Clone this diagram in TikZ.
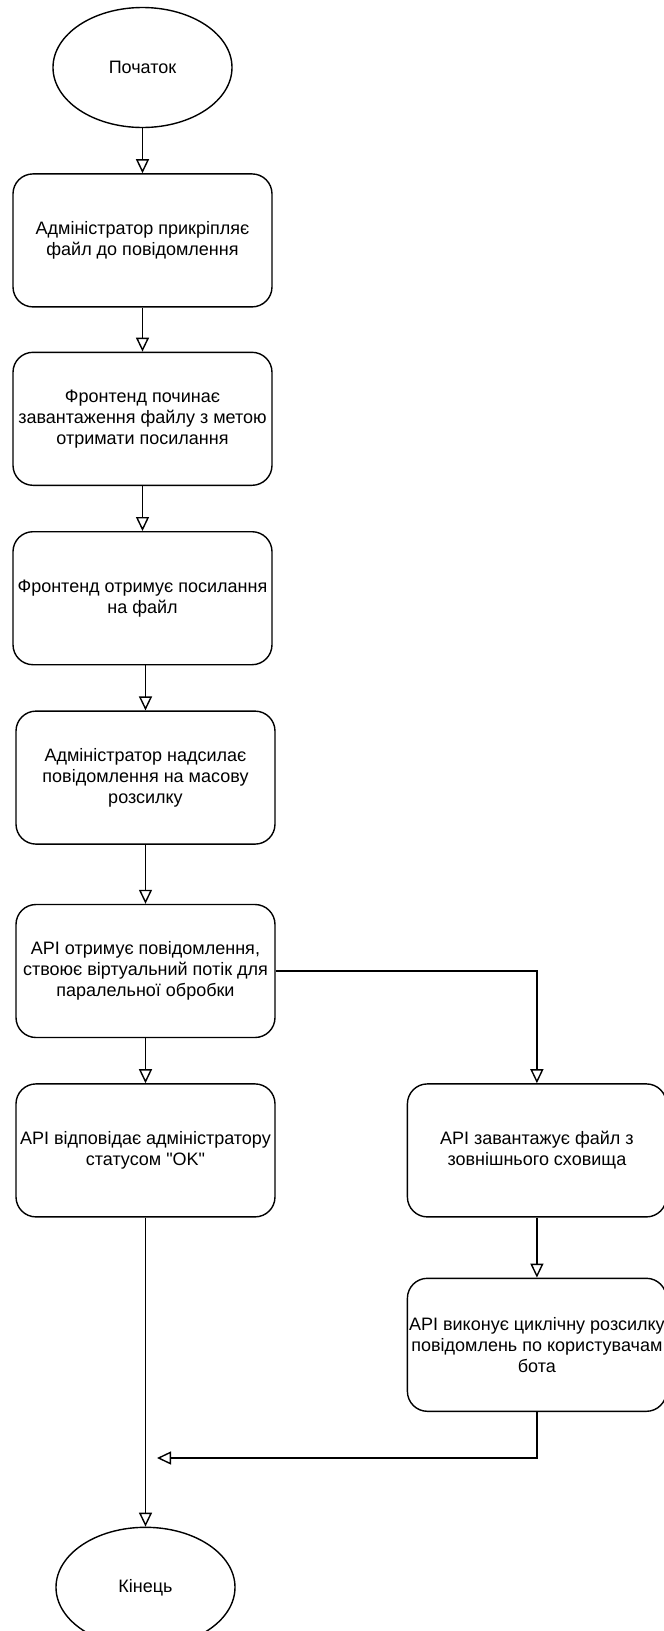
\documentclass[tikz,border=0pt]{standalone}
\usepackage{fontspec}
\setmainfont{Liberation Sans}
\usetikzlibrary{positioning,shapes.geometric,arrows.meta}
\tikzstyle{term} = [ellipse, draw, line width=1.4pt, %
   minimum width=179pt, minimum height=120pt, inner sep=0pt, text centered]
\tikzstyle{box} = [rectangle, draw, line width=1.4pt, rounded corners=20pt, %
   minimum width=259pt, minimum height=133pt, inner sep=0pt, align=center]
\tikzstyle{line} = [draw, line width=1.4pt, -{Triangle[open, length=14pt, width=13pt]}]

\begin{document}
\begin{tikzpicture}[x=1pt, y=-1pt, font={\fontsize{18}{21}\selectfont}]
   \useasboundingbox (0,0) rectangle (664,1631);

   % Place nodes
   % MAIN SPINE %%%%%%%%%%%%%%%%%%%%%%%%%%%%%%%%%%%%%%%%%%%%%%%%%%
   \node[term] (start) at (142.5,67.5) {Початок};

   \node[box, below=45pt of start] (attach){%
      Адміністратор прикріпляє\\файл до повідомлення};

   \node[box, below=44pt of attach] (upload){%
      Фронтенд починає\\завантаження файлу з метою\\отримати посилання};

   \node[box, below=45pt of upload] (getlink){%
      Фронтенд отримує посилання\\на файл};

   \node[box, below=45pt of getlink, xshift=3pt] (send){%
      Адміністратор надсилає\\повідомлення на масову\\розсилку};

   \node[box, below=59pt of send] (receive){%
      API отримує повідомлення,\\ствоює віртуальний потік для\\паралельної обробки};

   \node[box, below=45pt of receive] (reply){%
      API відповідає адміністратору\\статусом \textquotedbl OK\textquotedbl};

   \node[term, below=309pt of reply] (finish) {Кінець};

   % WORKER BRANCH %%%%%%%%%%%%%%%%%%%%%%%%%%%%%%%%%%%%%%%%%%%%%%%
   \node[box, right=131pt of reply] (download){%
      API завантажує файл з\\зовнішнього сховища};

   \node[box, below=60pt of download] (broadcast){%
      API виконує циклічну розсилку\\повідомлень по користувачам\\бота};

   \coordinate (mergept) at (157,1458);

   % Draw edges
   \path [line] (start) -- (attach);
   \path [line] (attach) -- (upload);
   \path [line] (upload) -- (getlink);
   \path [line] (getlink.south -| send.north) -- (send.north);
   \path [line] (send) -- (receive);
   \path [line] (receive) -- (reply);
   \path [line] (reply.south) -- (reply.south |- finish.north);
   \path [line] (receive.east) -| (download.north);
   \path [line] (download) -- (broadcast);
   \path [line] (broadcast.south) |- (mergept);
\end{tikzpicture}
\end{document}
